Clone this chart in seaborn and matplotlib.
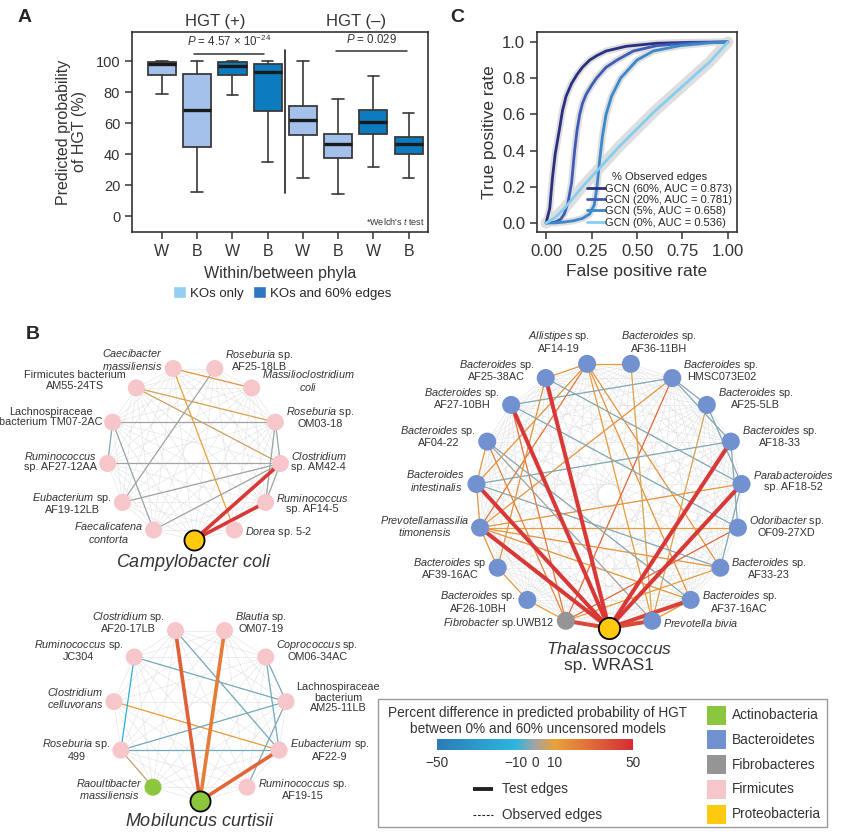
import numpy as np
import pandas as pd
import seaborn as sns
import matplotlib.pyplot as plt
from matplotlib.patches import Patch, Rectangle
from matplotlib.colors import LinearSegmentedColormap, Normalize
from matplotlib.cm import ScalarMappable

sns.set_style('ticks')
plt.rcParams['font.family'] = ['Liberation Sans', 'DejaVu Sans']
plt.rcParams['mathtext.fontset'] = 'custom'
plt.rcParams['mathtext.rm'] = 'Liberation Sans'
plt.rcParams['mathtext.it'] = 'Liberation Sans:italic'
plt.rcParams['mathtext.bf'] = 'Liberation Sans:bold'
plt.rcParams['axes.unicode_minus'] = True

# ------------------------------------------------------------
# DATA - panel A (box summaries)
# ------------------------------------------------------------
box_group = ['W', 'B', 'W', 'B', 'W', 'B', 'W', 'B']
box_hgt = ['HGT (+)'] * 4 + ['HGT (–)'] * 4
box_model = ['KOs only', 'KOs only', 'KOs and 60% edges', 'KOs and 60% edges'] * 2
box_whislo = [79, 16, 78.5, 35, 25, 14.6, 32, 25]
box_q1 = [91, 45, 91, 68, 52.3, 37.7, 53.4, 40.5]
box_med = [98.5, 68.5, 97, 93.5, 62.4, 46.5, 61, 46.7]
box_q3 = [99.6, 92, 99.6, 98.5, 71.4, 53.2, 68.6, 51]
box_whishi = [100, 100, 100, 100, 100, 75.7, 90.3, 66.7]
pvals = [r'$\mathit{P}$ = 4.57 × 10$^{-24}$', r'$\mathit{P}$ = 0.029']

# ------------------------------------------------------------
# DATA - panel C (ROC curves)
# ------------------------------------------------------------
roc_labels = ['GCN (60%, AUC = 0.873)', 'GCN (20%, AUC = 0.781)',
              'GCN (5%, AUC = 0.658)', 'GCN (0%, AUC = 0.536)']
fpr60 = [0, 0.02, 0.035, 0.05, 0.074, 0.09, 0.11, 0.14, 0.17, 0.20, 0.24, 0.28, 0.33, 0.44, 0.61, 0.8, 1.0]
tpr60 = [0, 0.08, 0.25, 0.38, 0.52, 0.62, 0.70, 0.77, 0.82, 0.86, 0.90, 0.925, 0.95, 0.976, 0.993, 0.998, 1.0]
fpr20 = [0, 0.05, 0.08, 0.10, 0.12, 0.14, 0.157, 0.17, 0.185, 0.20, 0.22, 0.25, 0.277, 0.33, 0.39, 0.48, 0.61, 0.8, 1.0]
tpr20 = [0, 0.005, 0.02, 0.05, 0.11, 0.22, 0.40, 0.51, 0.60, 0.66, 0.71, 0.76, 0.80, 0.86, 0.90, 0.95, 0.98, 0.995, 1.0]
fpr5 = [0, 0.05, 0.10, 0.15, 0.20, 0.24, 0.265, 0.28, 0.295, 0.31, 0.33, 0.36, 0.41, 0.50, 0.59, 0.74, 0.9, 1.0]
tpr5 = [0, 0.0, 0.005, 0.012, 0.025, 0.05, 0.10, 0.20, 0.35, 0.48, 0.60, 0.70, 0.80, 0.90, 0.95, 0.98, 0.995, 1.0]
fpr0 = [0, 0.05, 0.10, 0.15, 0.20, 0.30, 0.40, 0.50, 0.60, 0.70, 0.80, 0.90, 1.0]
tpr0 = [0, 0.03, 0.08, 0.14, 0.20, 0.31, 0.42, 0.52, 0.62, 0.71, 0.80, 0.89, 1.0]

# ------------------------------------------------------------
# DATA - panel B (networks); '*' marks italic text
# edges: (node i, node j, % difference, is test edge)
# ------------------------------------------------------------
cc_names = ['*Campylobacter coli*', '*Faecalicatena*\n*contorta*', '*Eubacterium* sp.\nAF19-12LB',
            '*Ruminococcus*\nsp. AF27-12AA', 'Lachnospiraceae\nbacterium TM07-2AC',
            'Firmicutes bacterium\nAM55-24TS', '*Caecibacter*\n*massiliensis*', '*Roseburia* sp.\nAF25-18LB',
            '*Massilioclostridium*\n*coli*', '*Roseburia* sp.\nOM03-18', '*Clostridium*\nsp. AM42-4',
            '*Ruminococcus*\nsp. AF14-5', '*Dorea* sp. 5-2']
cc_phyla = ['Proteobacteria'] + ['Firmicutes'] * 12
cc_edges = [(0, 10, 45, True), (0, 11, 45, True),
            (6, 8, 15, False), (6, 12, 10, False), (5, 9, 8, False), (5, 10, 6, False),
            (7, 2, 0, False), (4, 9, 0, False), (4, 3, -2, False), (4, 1, -1, False),
            (2, 10, 0, False), (1, 10, 0, False), (9, 10, -1, False), (10, 11, 0, False),
            (9, 11, -1, False), (3, 10, 0, False)]

mc_names = ['*Mobiluncus curtisii*', '*Raoultibacter*\n*massiliensis*', '*Roseburia* sp.\n499',
            '*Clostridium*\n*celluvorans*', '*Ruminococcus* sp.\nJC304', '*Clostridium* sp.\nAF20-17LB',
            '*Blautia* sp.\nOM07-19', '*Coprococcus* sp.\nOM06-34AC',
            'Lachnospiraceae\nbacterium\nAM25-11LB', '*Eubacterium* sp.\nAF22-9', '*Ruminococcus* sp.\nAF19-15']
mc_phyla = ['Actinobacteria', 'Actinobacteria'] + ['Firmicutes'] * 9
mc_edges = [(0, 5, 32, True), (0, 6, 22, True), (0, 9, 30, True),
            (3, 9, 12, False), (4, 2, -14, False), (4, 8, -4, False), (5, 9, -4, False),
            (2, 8, -4, False), (2, 9, -4, False), (2, 1, 5, False), (7, 9, -4, False),
            (8, 10, -3, False), (7, 8, -3, False)]

th_names = ['*Thalassococcus*\nsp. WRAS1', '*Fibrobacter* sp.UWB12', '*Bacteroides* sp.\nAF26-10BH',
            '*Bacteroides* sp\nAF39-16AC', '*Prevotellamassilia*\n*timonensis*', '*Bacteroides*\n*intestinalis*',
            '*Bacteroides* sp.\nAF04-22', '*Bacteroides* sp.\nAF27-10BH', '*Bacteroides* sp.\nAF25-38AC',
            '*Allistipes* sp.\nAF14-19', '*Bacteroides* sp.\nAF36-11BH', '*Bacteroides* sp.\nHMSC073E02',
            '*Bacteroides* sp.\nAF25-5LB', '*Bacteroides* sp.\nAF18-33', '*Parabacteroides*\nsp. AF18-52',
            '*Odoribacter* sp.\nOF09-27XD', '*Bacteroides* sp.\nAF33-23', '*Bacteroides* sp.\nAF37-16AC',
            '*Prevotella bivia*']
th_phyla = ['Proteobacteria', 'Fibrobacteres'] + ['Bacteroidetes'] * 17
th_edges = [(0, 8, 45, True), (0, 7, 45, True), (0, 5, 45, True), (0, 4, 45, True), (0, 13, 45, True),
            (0, 14, 45, True), (0, 17, 42, True), (0, 18, 40, True), (0, 1, 40, True),
            (9, 8, 15, False), (9, 10, 12, False), (9, 4, 25, False), (9, 5, 15, False), (9, 16, 15, False),
            (9, 18, 12, False), (9, 17, 15, False), (11, 7, -3, False), (11, 4, 15, False), (11, 1, 30, False),
            (8, 14, -3, False), (7, 15, -3, False), (7, 1, 25, False), (5, 13, -3, False), (4, 14, 15, False),
            (4, 16, 15, False), (4, 17, 15, False), (4, 15, 12, False), (6, 18, 0, False), (10, 18, 8, False),
            (12, 18, 8, False), (3, 4, 15, False), (5, 6, 15, False), (2, 3, 12, False), (15, 1, 30, False),
            (5, 16, -2, False), (6, 17, -2, False), (11, 13, -3, False), (13, 15, -3, False),
            (14, 16, -3, False), (12, 14, -3, False), (8, 3, 15, False), (6, 1, 20, False),
            (16, 1, 12, False), (11, 12, -2, False), (5, 4, 15, False), (2, 1, 12, False), (17, 18, 15, False)]

phylum_names = ['Actinobacteria', 'Bacteroidetes', 'Fibrobacteres', 'Firmicutes', 'Proteobacteria']
cbar_ticks = [-50, -10, 0, 10, 50]

# ------------------------------------------------------------
# STYLE
# ------------------------------------------------------------
model_colors = {'KOs only': '#A3C1EB', 'KOs and 60% edges': '#0C7BC0'}
legend_colors = {'KOs only': '#92CFF2', 'KOs and 60% edges': '#2F77C0'}
roc_colors = ['#2B2F80', '#3E5BB6', '#3C88CA', '#86CEF0']
roc_band = [5, 5, 5, 8]
phylum_colors = dict(zip(phylum_names, ['#8CC63E', '#7191D1', '#959595', '#F7C6CA', '#FFC90E']))
edge_cmap = LinearSegmentedColormap.from_list(
    'hgt', [(0, '#2C7BB6'), (0.4, '#2BB6DF'), (0.5, '#A3A3A3'), (0.6, '#E9A23B'), (1, '#D62B36')])
edge_norm = Normalize(-50, 50)
ink = '#333333'

W, H = 850, 835
fig = plt.figure(figsize=(W / 100, H / 100), dpi=100)


def frac(x0, y0, x1, y1):
    return [x0 / W, 1 - y1 / H, (x1 - x0) / W, (y1 - y0) / H]


def fmt(lbl):
    parts = lbl.split('*')
    out = ''
    for i, p in enumerate(parts):
        if i % 2 == 1 and p:
            out += r'$\mathit{' + p.replace(' ', r'\ ') + '}$'
        else:
            out += p
    return out


def frame(ax):
    for sp in ax.spines.values():
        sp.set_visible(True)
        sp.set_color(ink)
        sp.set_linewidth(1.2)
    ax.tick_params(direction='out', length=5, width=1.1, color=ink, labelcolor=ink)


# ------------------------------------------------------------
# PANEL A
# ------------------------------------------------------------
axA = fig.add_axes(frac(132, 32, 428, 232))
stats = [dict(whislo=a, q1=b, med=c, q3=d, whishi=e)
         for a, b, c, d, e in zip(box_whislo, box_q1, box_med, box_q3, box_whishi)]
pos = np.arange(len(stats))
bp = axA.bxp(stats, positions=pos, widths=0.8, capwidths=0.33, showfliers=False, patch_artist=True,
             boxprops=dict(edgecolor='#3a3a3a', linewidth=1.3),
             whiskerprops=dict(color='#3a3a3a', linewidth=1.2),
             capprops=dict(color='#3a3a3a', linewidth=1.2),
             medianprops=dict(color='#1a1a1a', linewidth=2.4))
for patch, m in zip(bp['boxes'], box_model):
    patch.set_facecolor(model_colors[m])

axA.set_xlim(-0.85, 7.55)
axA.set_ylim(-10, 119)
axA.set_yticks([0, 20, 40, 60, 80, 100])
axA.set_xticks(pos)
axA.set_xticklabels(box_group, fontsize=11.5)
axA.tick_params(axis='y', labelsize=10.5)
frame(axA)
axA.set_ylabel('Predicted probability\nof HGT (%)', fontsize=11.5, color=ink, labelpad=6, linespacing=1.1)
axA.set_xlabel('Within/between phyla', fontsize=11.5, color=ink, labelpad=5)

axA.plot([3.5, 3.5], [15, 107.5], color=ink, lw=1.3)
for grp in ['HGT (+)', 'HGT (–)']:
    idx = [i for i, g in enumerate(box_hgt) if g == grp]
    axA.text(np.mean(idx), 121, grp, ha='center', va='bottom', fontsize=12, color=ink, clip_on=False)
axA.plot([0.9, 2.9], [104.7, 104.7], color=ink, lw=1.1)
axA.text(1.9, 108, pvals[0], ha='center', va='bottom', fontsize=8.3, color=ink)
axA.plot([4.95, 6.95], [107, 107], color=ink, lw=1.1)
axA.text(5.95, 110, pvals[1], ha='center', va='bottom', fontsize=8.3, color=ink)
axA.text(7.45, -3.5, r"*Welch's $\mathit{t}$ test", ha='right', va='center', fontsize=6.5, color=ink)

fig.legend(handles=[Patch(facecolor=legend_colors[m], label=m) for m in model_colors],
           loc='center', bbox_to_anchor=(282 / W, 1 - 293 / H), ncol=2, frameon=False, fontsize=9.5,
           handlelength=1.0, handleheight=1.0, handletextpad=0.3, columnspacing=0.7)

# ------------------------------------------------------------
# PANEL C
# ------------------------------------------------------------
axC = fig.add_axes(frac(537, 32, 737, 232))
roc_x = [fpr60, fpr20, fpr5, fpr0]
roc_y = [tpr60, tpr20, tpr5, tpr0]
for fx, fy, bw in zip(roc_x, roc_y, roc_band):
    axC.plot(fx, fy, color='#DEDEDE', lw=bw, solid_capstyle='round', zorder=1)
for fx, fy, col, lab in zip(roc_x, roc_y, roc_colors, roc_labels):
    sns.lineplot(x=fx, y=fy, ax=axC, color=col, lw=2, label=lab, sort=False, estimator=None, zorder=2)
axC.set_xlim(-0.05, 1.05)
axC.set_ylim(-0.05, 1.055)
axC.set_xticks([0, 0.25, 0.5, 0.75, 1.0])
axC.set_yticks([0, 0.2, 0.4, 0.6, 0.8, 1.0])
axC.xaxis.set_major_formatter(plt.FormatStrFormatter('%.2f'))
axC.yaxis.set_major_formatter(plt.FormatStrFormatter('%.1f'))
axC.tick_params(labelsize=12)
frame(axC)
axC.set_xlabel('False positive rate', fontsize=12.5, color=ink, labelpad=4)
axC.set_ylabel('True positive rate', fontsize=12.5, color=ink, labelpad=4)
axC.legend(title='% Observed edges', loc='lower right', fontsize=8, title_fontsize=8, frameon=False,
           handlelength=1.6, handletextpad=0.05, labelspacing=0.12, borderaxespad=0.2,
           borderpad=0.2)

# ------------------------------------------------------------
# PANEL B (networks drawn in pixel space)
# ------------------------------------------------------------
axB = fig.add_axes(frac(0, 320, W, H))
axB.set_zorder(-1)


def draw_network(ax, names, phyla, edges, cx, cy, R, r, focal_fs, test_lw):
    n = len(names)
    theta = np.deg2rad(-90 - np.arange(n) * 360 / n)
    xs = cx + R * np.cos(theta)
    ys = cy - R * np.sin(theta)
    for i in range(n):
        for j in range(i + 1, n):
            ax.plot([xs[i], xs[j]], [ys[i], ys[j]], color='#DCDCDC', lw=0.5,
                    ls=(0, (2, 1)), zorder=1)
    for i, j, v, test in edges:
        ax.plot([xs[i], xs[j]], [ys[i], ys[j]], color=edge_cmap(edge_norm(v)),
                lw=test_lw if test else 0.9, zorder=3 if test else 2, solid_capstyle='round')
    nodes = pd.DataFrame({'x': xs, 'y': ys, 'phylum': phyla})
    size = (2 * r / 1.389) ** 2
    sns.scatterplot(data=nodes.iloc[1:], x='x', y='y', hue='phylum', palette=phylum_colors,
                    s=size, linewidth=0, legend=False, ax=ax, zorder=4)
    sns.scatterplot(data=nodes.iloc[:1], x='x', y='y', hue='phylum', palette=phylum_colors,
                    s=size * 1.4, edgecolor='black', linewidth=1.3, legend=False, ax=ax, zorder=5)
    for k in range(1, n):
        c, s = np.cos(theta[k]), np.sin(theta[k])
        if s > 0.98:
            ax.text(xs[k] + 170 * c, ys[k] - r - 1, fmt(names[k]), ha='center', va='bottom',
                    fontsize=7.8, color=ink, multialignment='center', linespacing=1.05, zorder=6)
        else:
            ax.text(xs[k] + np.sign(c) * (r + 2), ys[k] - 3 - 6 * s, fmt(names[k]),
                    ha='left' if c > 0 else 'right', va='center', fontsize=7.8, color=ink,
                    multialignment='center', linespacing=1.05, zorder=6)
    ax.text(xs[0], ys[0] + r * 1.2 + 2, fmt(names[0]), ha='center', va='top', fontsize=focal_fs,
            color=ink, multialignment='center', linespacing=1.1, zorder=6)


draw_network(axB, cc_names, cc_phyla, cc_edges, 194, 453, 87, 8.5, 13, 2.6)
draw_network(axB, mc_names, mc_phyla, mc_edges, 200, 714, 87, 8.5, 13, 2.6)
draw_network(axB, th_names, th_phyla, th_edges, 609, 495, 133, 9, 12.5, 2.9)

# legend box for B
axB.add_patch(Rectangle((378, 699), 449, 128, fill=False, ec='#9A9A9A', lw=1.0))
axB.text(538, 721, 'Percent difference in predicted probability of HGT\nbetween 0% and 60% uncensored models',
         ha='center', va='center', fontsize=9.8, color=ink, linespacing=1.1)
axB.plot([473, 493], [789, 789], color='#222222', lw=2.8, solid_capstyle='butt')
axB.text(502, 789, 'Test edges', ha='left', va='center', fontsize=9.8, color=ink)
axB.plot([473, 493], [815, 815], color='#222222', lw=0.8, ls=(0, (2.5, 1.5)))
axB.text(502, 815, 'Observed edges', ha='left', va='center', fontsize=9.8, color=ink)
for i, ph in enumerate(phylum_names):
    yy = 715 + i * 24.8
    axB.add_patch(Rectangle((707, yy - 9.5), 19, 19, fc=phylum_colors[ph], ec='none'))
    axB.text(732, yy, ph, ha='left', va='center', fontsize=9.8, color=ink)

axB.set_xlim(0, W)
axB.set_ylim(H, 320)
axB.axis('off')

cax = fig.add_axes(frac(437, 739, 633, 750))
cb = fig.colorbar(ScalarMappable(norm=edge_norm, cmap=edge_cmap), cax=cax, orientation='horizontal',
                  ticks=cbar_ticks)
cb.outline.set_visible(False)
cax.tick_params(length=0, labelsize=9.8, pad=4, labelcolor=ink)

# panel letters
for letter, (px, py) in zip('ABC', [(25, 18), (33, 335), (457, 18)]):
    fig.text(px / W, 1 - py / H, letter, fontsize=14, fontweight='bold', ha='center', va='center')

fig.savefig('out.png', dpi=100)
